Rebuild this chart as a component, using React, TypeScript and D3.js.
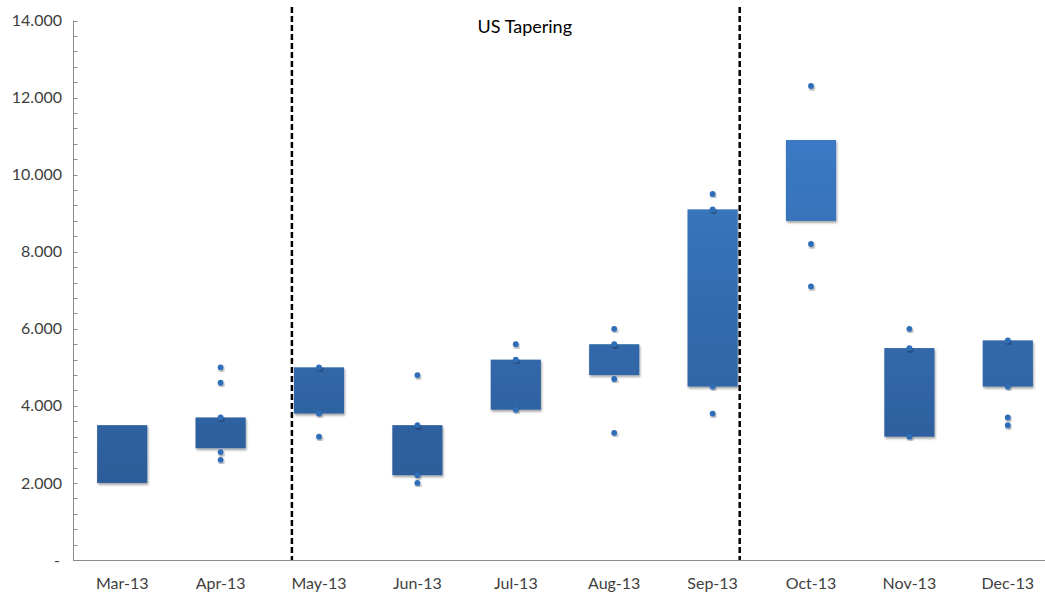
import * as d3 from "d3";

const MONTHS = ["Mar-13", "Apr-13", "May-13", "Jun-13", "Jul-13", "Aug-13", "Sep-13", "Oct-13", "Nov-13", "Dec-13"];
const BOX_LOW = [2000, 2900, 3800, 2200, 3900, 4800, 4500, 8800, 3200, 4500];
const BOX_HIGH = [3500, 3700, 5000, 3500, 5200, 5600, 9100, 10900, 5500, 5700];
const POINTS = [
  [],
  [5000, 4600, 3700, 2800, 2600],
  [5000, 3800, 3200],
  [4800, 3500, 2200, 2000],
  [5600, 5200, 3900],
  [6000, 5600, 4700, 3300],
  [9500, 9100, 4500, 3800],
  [12300, 8200, 7100],
  [6000, 5500, 3200],
  [5700, 4500, 3700, 3500],
];
const Y_TICKS = [0, 2000, 4000, 6000, 8000, 10000, 12000, 14000];
const PERIOD = { from: "May-13", to: "Sep-13", label: "US Tapering" };

const W = 1045, H = 597;
const FONT = "Lato, 'Open Sans', sans-serif";

export default function App() {
  const x = d3.scaleBand().domain(MONTHS).range([73, 1057]);
  const y = d3.scaleLinear().domain([0, 14000]).range([560, 20.5]);
  const bw = x.bandwidth();
  const boxW = bw * 0.51;
  const cx = (m: string) => (x(m) ?? 0) + bw / 2;
  const minor = d3.range(0, 14001, 400);
  const fmt = (v: number) => (v === 0 ? "-" : d3.format(",.3f")(v / 1000));

  const lineL = cx(PERIOD.from) - boxW / 2 - 2;
  const lineR = cx(PERIOD.to) + boxW / 2 + 2;

  return (
    <div style={{ position: "absolute", left: 0, top: 0 }}>
      <svg width={W} height={H} style={{ display: "block", background: "#fff" }}>
        <defs>
          <linearGradient id="boxFill" gradientUnits="userSpaceOnUse" x1="0" y1={y(14000)} x2="0" y2={y(0)}>
            <stop offset="0%" stopColor="#3f84d4" />
            <stop offset="100%" stopColor="#29568f" />
          </linearGradient>
          <filter id="shadow" x="-20%" y="-20%" width="140%" height="140%">
            <feDropShadow dx="1" dy="2" stdDeviation="1.2" floodColor="#000" floodOpacity="0.35" />
          </filter>
        </defs>

        {/* y axis */}
        <line x1={73.5} x2={73.5} y1={y(14000)} y2={y(0)} stroke="#8c8c8c" strokeWidth={1} />
        {minor.map((v) => (
          <line key={v} x1={73.5} x2={77.5} y1={Math.round(y(v)) + 0.5} y2={Math.round(y(v)) + 0.5} stroke="#8c8c8c" />
        ))}
        {Y_TICKS.map((v) => (
          <text key={v} x={v === 0 ? 60 : 62} y={y(v)} dy="0.35em" textAnchor="end" fontFamily={FONT} fontSize={16} fill="#404040">
            {fmt(v)}
          </text>
        ))}

        {/* x axis */}
        <line x1={73} x2={W} y1={y(0) + 0.5} y2={y(0) + 0.5} stroke="#8c8c8c" strokeWidth={1} />
        {MONTHS.map((m) => (
          <text key={m} x={cx(m)} y={589} textAnchor="middle" fontFamily={FONT} fontSize={16} fill="#404040">
            {m}
          </text>
        ))}

        {/* boxes */}
        {MONTHS.map((m, i) => (
          <rect
            key={m}
            x={cx(m) - boxW / 2}
            y={y(BOX_HIGH[i])}
            width={boxW}
            height={y(BOX_LOW[i]) - y(BOX_HIGH[i])}
            fill="url(#boxFill)"
            filter="url(#shadow)"
          />
        ))}

        {/* points */}
        {MONTHS.map((m, i) =>
          POINTS[i].map((v, j) => (
            <circle key={m + j} cx={cx(m)} cy={y(v)} r={2.9} fill="#2f6db8" filter="url(#shadow)" />
          ))
        )}

        {/* tapering period */}
        {[lineL, lineR].map((lx, i) => (
          <line key={i} x1={lx} x2={lx} y1={7} y2={y(0)} stroke="#000" strokeWidth={2.5} strokeDasharray="6 3" />
        ))}
        <text x={(lineL + lineR) / 2 + 9} y={33} textAnchor="middle" fontFamily={FONT} fontSize={18} fill="#000">
          {PERIOD.label}
        </text>
      </svg>
    </div>
  );
}
